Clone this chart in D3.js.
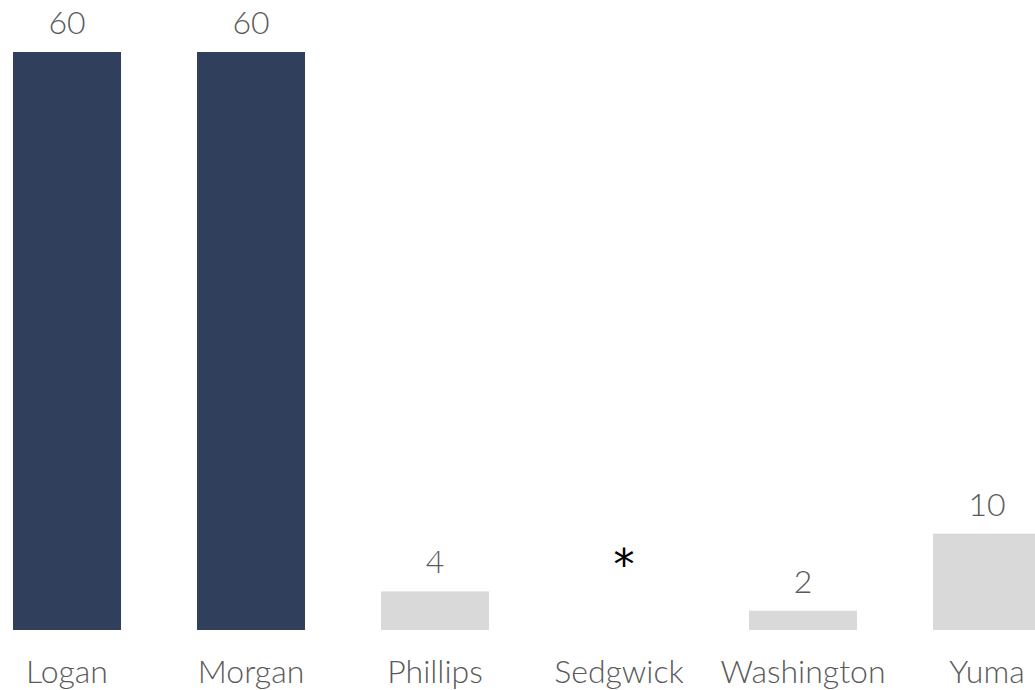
<!DOCTYPE html>
<html>
<head>
<meta charset="utf-8">
<script src="https://cdn.jsdelivr.net/npm/d3@7"></script>
<style>
  html, body { margin: 0; padding: 0; background: #fff; overflow: hidden; }
  svg { display: block; }
</style>
</head>
<body>
<svg id="chart" width="1035" height="690"></svg>
<script>
const categories = ["Logan", "Morgan", "Phillips", "Sedgwick", "Washington", "Yuma"];
const values = [60, 60, 4, null, 2, 10];
const highlighted = ["Logan", "Morgan"];
const valueLabels = ["60", "60", "4", "*", "2", "10"];

(function () {
const svg = d3.select("#chart");
const baseline = 630, plotTop = 52;
const labelFont = "'Lato Light', Lato, sans-serif";

const x = d3.scaleBand()
  .domain(categories)
  .range([-25, 1079])
  .paddingInner(0.413)
  .paddingOuter(0.2065);

const y = d3.scaleLinear().domain([0, 60]).range([baseline, plotTop]);

const data = categories.map((c, i) => ({ c, v: values[i], label: valueLabels[i] }));

svg.selectAll("rect.bar")
  .data(data.filter(d => d.v != null))
  .join("rect")
  .attr("class", "bar")
  .attr("x", d => x(d.c))
  .attr("width", x.bandwidth())
  .attr("y", d => y(d.v))
  .attr("height", d => y(0) - y(d.v))
  .attr("fill", d => highlighted.includes(d.c) ? "#2f3f5c" : "#d9d9d9");

svg.selectAll("text.val")
  .data(data.filter(d => d.v != null))
  .join("text")
  .attr("class", "val")
  .attr("x", d => x(d.c) + x.bandwidth() / 2)
  .attr("y", d => y(d.v) - 18)
  .attr("text-anchor", "middle")
  .attr("font-family", labelFont)
  .attr("font-weight", 300)
  .attr("font-size", 32)
  .attr("fill", "#595959")
  .text(d => d.label);

svg.selectAll("text.missing")
  .data(data.filter(d => d.v == null))
  .join("text")
  .attr("class", "missing")
  .attr("x", d => x(d.c) + x.bandwidth() / 2 + 5)
  .attr("y", y(4) - 12)
  .attr("text-anchor", "middle")
  .attr("font-family", "DejaVu Sans")
  .attr("font-size", 42)
  .attr("fill", "#000")
  .text(d => d.label);

svg.selectAll("text.cat")
  .data(categories)
  .join("text")
  .attr("class", "cat")
  .attr("x", d => x(d) + x.bandwidth() / 2)
  .attr("y", baseline + 53)
  .attr("text-anchor", "middle")
  .attr("font-family", labelFont)
  .attr("font-weight", 300)
  .attr("font-size", 32)
  .attr("fill", "#595959")
  .text(d => d);
})();
</script>
</body>
</html>
